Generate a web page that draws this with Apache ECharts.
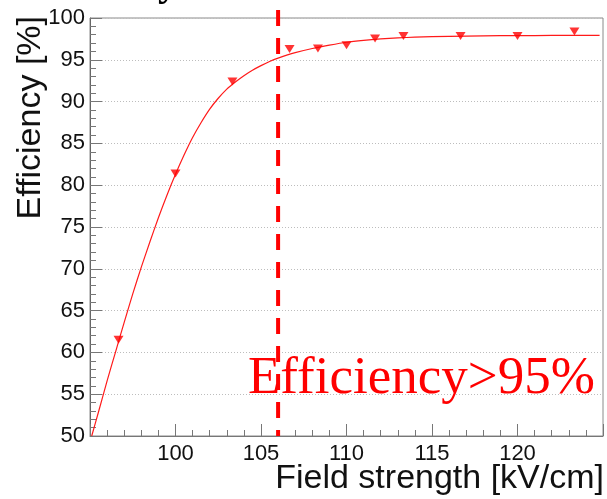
<!DOCTYPE html>
<html>
<head>
<meta charset="utf-8">
<script src="https://cdn.jsdelivr.net/npm/echarts@6/dist/echarts.min.js"></script>
<style>
  html, body { margin: 0; padding: 0; background: #fff; }
  #chart { width: 607px; height: 499px; }
</style>
</head>
<body>
<div id="chart"></div>
<script>
// Measured efficiency vs. applied field
const fieldStrength = [96.67, 100, 103.33, 106.67, 108.33, 110, 111.67, 113.33, 116.67, 120, 123.33];
const efficiency    = [61.5, 81.4, 92.4, 96.3, 96.35, 96.75, 97.55, 97.85, 97.85, 97.85, 98.4];

// Fitted curve, sampled along the field axis
const fitField = [
  95.1, 95.5, 96, 96.5, 97, 97.5, 98, 98.5, 99, 99.5,
  100, 100.5, 101, 101.5, 102, 102.5, 103, 103.5, 104, 104.5,
  105, 105.5, 106, 107, 108, 109, 110, 111, 112, 113,
  114, 115, 117, 119, 121, 123, 124.8
];
const fitEfficiency = [
  50, 52.9, 56.6, 60.1, 63.6, 67.0, 70.2, 73.2, 76.1, 78.8,
  81.3, 83.6, 85.7, 87.5, 89.1, 90.4, 91.5, 92.35, 93.1, 93.75,
  94.3, 94.8, 95.2, 95.85, 96.35, 96.75, 97.1, 97.33, 97.5, 97.62,
  97.71, 97.77, 97.84, 97.88, 97.9, 97.92, 97.93
];

// Threshold field where efficiency exceeds 95 %
const thresholdField = 106;
const thresholdLabel = 'Efficiency>95%';

const xTitle = 'Field strength [kV/cm]';
const yTitle = 'Efficiency [%]';

const pair = (xs, ys) => xs.map((x, i) => [x, ys[i]]);

const chart = echarts.init(document.getElementById('chart'), null, { renderer: 'canvas' });

const axisFont = { fontFamily: 'Liberation Sans', fontSize: 22, color: '#111' };

chart.setOption({
  animation: false,
  backgroundColor: '#fff',
  grid: {
    left: 90, top: 18, right: 4, bottom: 63,
    show: true, borderColor: '#8a8a8a', borderWidth: 1, backgroundColor: 'transparent'
  },
  xAxis: {
    type: 'value', min: 95, max: 125, interval: 5,
    axisLine: { show: true, lineStyle: { color: '#777', width: 1 } },
    axisTick: { show: true, inside: true, length: 12, lineStyle: { color: '#777' } },
    minorTick: { show: true, splitNumber: 5, length: 6, lineStyle: { color: '#777' } },
    axisLabel: { ...axisFont, margin: 7, showMinLabel: false, showMaxLabel: false },
    splitLine: { show: false }
  },
  yAxis: {
    type: 'value', min: 50, max: 100, interval: 5,
    axisLine: { show: true, lineStyle: { color: '#666', width: 1 } },
    axisTick: { show: true, inside: true, length: 12, lineStyle: { color: '#777' } },
    minorTick: { show: true, splitNumber: 5, length: 6, lineStyle: { color: '#777' } },
    axisLabel: { ...axisFont, margin: 5 },
    splitLine: { show: true, lineStyle: { color: '#bdbdbd', type: [1, 2], width: 1 } }
  },
  series: [
    {
      name: 'fit', type: 'line', data: pair(fitField, fitEfficiency),
      smooth: 0.25, showSymbol: false, symbol: 'none',
      lineStyle: { color: '#ff1a1a', width: 1.2 }, z: 3, clip: true
    },
    {
      name: 'measured', type: 'scatter', data: pair(fieldStrength, efficiency),
      symbol: 'triangle', symbolRotate: 180, symbolSize: [10, 8],
      itemStyle: { color: '#ff0000' }, z: 4
    }
  ]
});

// Threshold marker line, label and axis titles
function drawOverlay() {
  const xPix = chart.convertToPixel({ xAxisIndex: 0 }, thresholdField);
  const yBottom = chart.convertToPixel({ yAxisIndex: 0 }, 50);
  chart.setOption({
    graphic: [
      {
        type: 'line', z: 10,
        shape: { x1: xPix, y1: 10, x2: xPix, y2: yBottom },
        style: { stroke: '#ff0000', lineWidth: 4, lineDash: [16, 12] }
      },
      {
        type: 'text', z: 11, x: 248, y: 406,
        style: {
          text: thresholdLabel, fill: '#ff0000',
          font: '53px "Liberation Serif"', textAlign: 'left', textVerticalAlign: 'bottom'
        }
      },
      {
        type: 'text', z: 11, x: 604, y: 496,
        style: {
          text: xTitle, fill: '#111',
          font: '34px "Liberation Sans"', textAlign: 'right', textVerticalAlign: 'bottom'
        }
      },
      {
        type: 'text', z: 11, x: 31, y: 16, rotation: Math.PI / 2,
        style: {
          text: yTitle, fill: '#111',
          font: '34px "Liberation Sans"', textAlign: 'right', textVerticalAlign: 'middle'
        }
      },
      {
        type: 'text', z: 11, x: 158, y: 5,
        style: {
          text: 'y', fill: '#000',
          font: 'bold 40px "Liberation Serif"', textAlign: 'left', textVerticalAlign: 'bottom'
        }
      }
    ]
  });
}
drawOverlay();
</script>
</body>
</html>
